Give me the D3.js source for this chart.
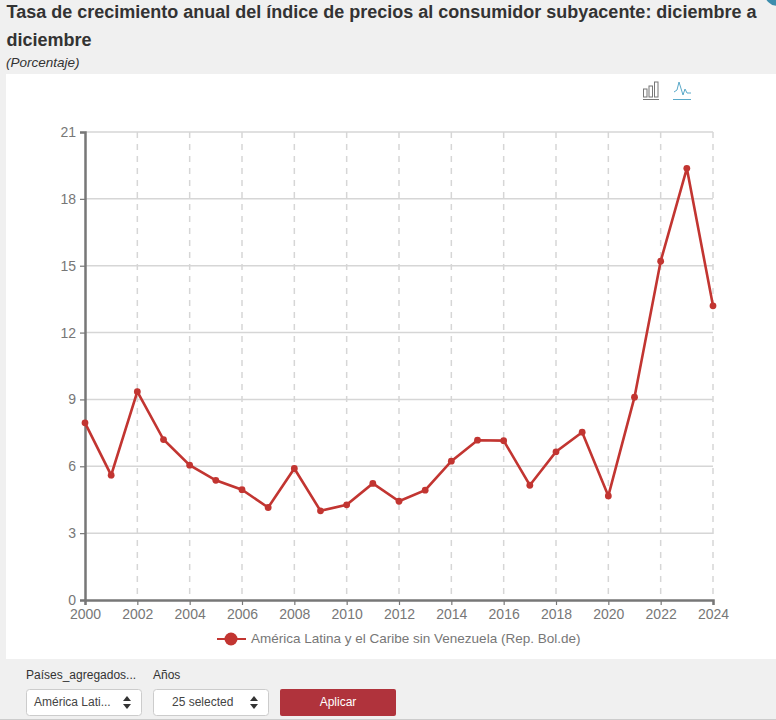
<!DOCTYPE html>
<html>
<head>
<meta charset="utf-8">
<script src="https://cdn.jsdelivr.net/npm/d3@7"></script>
<style>
  html, body { margin: 0; padding: 0; background: #f0f0f0; overflow: hidden; }
  svg { display: block; font-family: "Liberation Sans", Arial, sans-serif; }
</style>
</head>
<body>
<script>
// datos
var years = [2000, 2001, 2002, 2003, 2004, 2005, 2006, 2007, 2008, 2009, 2010, 2011, 2012,
  2013, 2014, 2015, 2016, 2017, 2018, 2019, 2020, 2021, 2022, 2023, 2024];
var values = [7.95, 5.6, 9.35, 7.2, 6.05, 5.37, 4.95, 4.15, 5.9, 4.0, 4.27, 5.23, 4.43,
  4.93, 6.23, 7.17, 7.15, 5.15, 6.65, 7.53, 4.67, 9.1, 15.2, 19.37, 13.2];
var yTicks = [0, 3, 6, 9, 12, 15, 18, 21];
var xTicks = [2000, 2002, 2004, 2006, 2008, 2010, 2012, 2014, 2016, 2018, 2020, 2022, 2024];
var titleLines = ["Tasa de crecimiento anual del índice de precios al consumidor subyacente: diciembre a", "diciembre"];
var subtitle = "(Porcentaje)";
var seriesName = "América Latina y el Caribe sin Venezuela (Rep. Bol.de)";

var width = 776;
var height = 720;
var red = "#c23531";
var axisGrey = "#777";

var svg = d3.select("body").append("svg")
  .attr("width", width)
  .attr("height", height);

// titulo
svg.selectAll("text.title")
  .data(titleLines)
  .enter()
  .append("text")
  .attr("class", "title")
  .attr("x", 6.5)
  .attr("y", function (d, i) { return 18 + i * 28; })
  .attr("font-size", "18px")
  .attr("font-weight", "bold")
  .attr("fill", "#333")
  .text(function (d) { return d; });

svg.append("text")
  .attr("x", 6)
  .attr("y", 67)
  .attr("font-size", "13.5px")
  .attr("font-style", "italic")
  .attr("fill", "#333")
  .text(subtitle);

// circulo azul de la esquina
svg.append("circle").attr("cx", 778).attr("cy", -8).attr("r", 14).attr("fill", "#3c8dad");

// area blanca del grafico
svg.append("rect")
  .attr("x", 6).attr("y", 74)
  .attr("width", 770).attr("height", 585)
  .attr("fill", "#fff");

var x = d3.scaleLinear().domain([2000, 2024]).range([85, 713]);
var y = d3.scaleLinear().domain([0, 21]).range([600, 132]);

// rejilla
svg.selectAll("line.hgrid")
  .data(yTicks.filter(function (d) { return d > 0; }))
  .enter()
  .append("line")
  .attr("class", "hgrid")
  .attr("x1", x(2000)).attr("x2", x(2024))
  .attr("y1", function (d) { return y(d); })
  .attr("y2", function (d) { return y(d); })
  .attr("stroke", "#d6d6d6")
  .attr("stroke-width", 1.5);

svg.selectAll("line.vgrid")
  .data(xTicks.slice(1))
  .enter()
  .append("line")
  .attr("class", "vgrid")
  .attr("x1", function (d) { return x(d); })
  .attr("x2", function (d) { return x(d); })
  .attr("y1", y(21)).attr("y2", y(0))
  .attr("stroke", "#d6d6d6")
  .attr("stroke-width", 1.5)
  .attr("stroke-dasharray", "6,6");

// ejes
var xAxis = d3.axisBottom(x).tickValues(xTicks).tickFormat(d3.format("d")).tickSize(5).tickPadding(4);
var yAxis = d3.axisLeft(y).tickValues(yTicks).tickSize(5).tickPadding(4);

var gx = svg.append("g").attr("transform", "translate(0," + y(0) + ")").call(xAxis);
var gy = svg.append("g").attr("transform", "translate(" + x(2000) + ",0)").call(yAxis);

[gx, gy].forEach(function (g) {
  g.select(".domain").attr("stroke", axisGrey).attr("stroke-width", 2.5);
  g.selectAll(".tick line").attr("stroke", axisGrey).attr("stroke-width", 1.2);
  g.selectAll(".tick text")
    .attr("fill", axisGrey)
    .attr("font-size", "14px")
    .attr("font-family", "Liberation Sans, Arial, sans-serif");
});

// linea
var line = d3.line()
  .x(function (d, i) { return x(years[i]); })
  .y(function (d) { return y(d); });

svg.append("path")
  .datum(values)
  .attr("d", line)
  .attr("fill", "none")
  .attr("stroke", red)
  .attr("stroke-width", 2.6);

svg.selectAll("circle.point")
  .data(values)
  .enter()
  .append("circle")
  .attr("class", "point")
  .attr("cx", function (d, i) { return x(years[i]); })
  .attr("cy", function (d) { return y(d); })
  .attr("r", 3.4)
  .attr("fill", red);

// leyenda
svg.append("line")
  .attr("x1", 217).attr("x2", 246)
  .attr("y1", 639).attr("y2", 639)
  .attr("stroke", red).attr("stroke-width", 2);
svg.append("circle").attr("cx", 231).attr("cy", 639).attr("r", 6.5).attr("fill", red);
svg.append("text")
  .attr("x", 251).attr("y", 643)
  .attr("font-size", "13.5px")
  .attr("fill", axisGrey)
  .text(seriesName);

// iconos de tipo de grafico
var barIcon = svg.append("g").attr("fill", "none").attr("stroke", "#777").attr("stroke-width", 1);
[[643.5, 89, 3.5, 8], [649, 86, 3.5, 11], [654.5, 82, 3.5, 15]].forEach(function (b) {
  barIcon.append("rect").attr("x", b[0]).attr("y", b[1]).attr("width", b[2]).attr("height", b[3]);
});
barIcon.append("line").attr("x1", 643).attr("x2", 659).attr("y1", 99.5).attr("y2", 99.5);

var lineIcon = svg.append("g").attr("fill", "none").attr("stroke", "#5aa9c9").attr("stroke-width", 1);
lineIcon.append("path").attr("d", "M674 92 L677 90 L679 82 L683 95 L685 89 L687 93 L691 93");
lineIcon.append("line").attr("x1", 673).attr("x2", 691).attr("y1", 99.5).attr("y2", 99.5);

// controles
svg.append("text").attr("x", 26).attr("y", 679).attr("font-size", "12px").attr("fill", "#333").text("Países_agregados...");
svg.append("text").attr("x", 153).attr("y", 679).attr("font-size", "12px").attr("fill", "#333").text("Años");

var selects = [
  { x: 26, label: "América Lati...", tx: 34 },
  { x: 153, label: "25 selected", tx: 172 }
];
selects.forEach(function (s) {
  svg.append("rect")
    .attr("x", s.x + 0.5).attr("y", 689.5)
    .attr("width", 115).attr("height", 26).attr("rx", 3)
    .attr("fill", "#fff").attr("stroke", "#ccc");
  svg.append("text").attr("x", s.tx).attr("y", 706).attr("font-size", "12px").attr("fill", "#444").text(s.label);
  var c = s.x + 101;
  svg.append("path").attr("d", "M" + (c - 4) + " 701 L" + c + " 696 L" + (c + 4) + " 701 Z").attr("fill", "#333");
  svg.append("path").attr("d", "M" + (c - 4) + " 704 L" + c + " 709 L" + (c + 4) + " 704 Z").attr("fill", "#333");
});

svg.append("rect")
  .attr("x", 280).attr("y", 689)
  .attr("width", 116).attr("height", 27).attr("rx", 2)
  .attr("fill", "#b0333c");
svg.append("text")
  .attr("x", 338).attr("y", 706)
  .attr("text-anchor", "middle")
  .attr("font-size", "12px")
  .attr("fill", "#fff")
  .text("Aplicar");

svg.append("line").attr("x1", 0).attr("x2", width).attr("y1", 719.5).attr("y2", 719.5).attr("stroke", "#ccc");
</script>
</body>
</html>
